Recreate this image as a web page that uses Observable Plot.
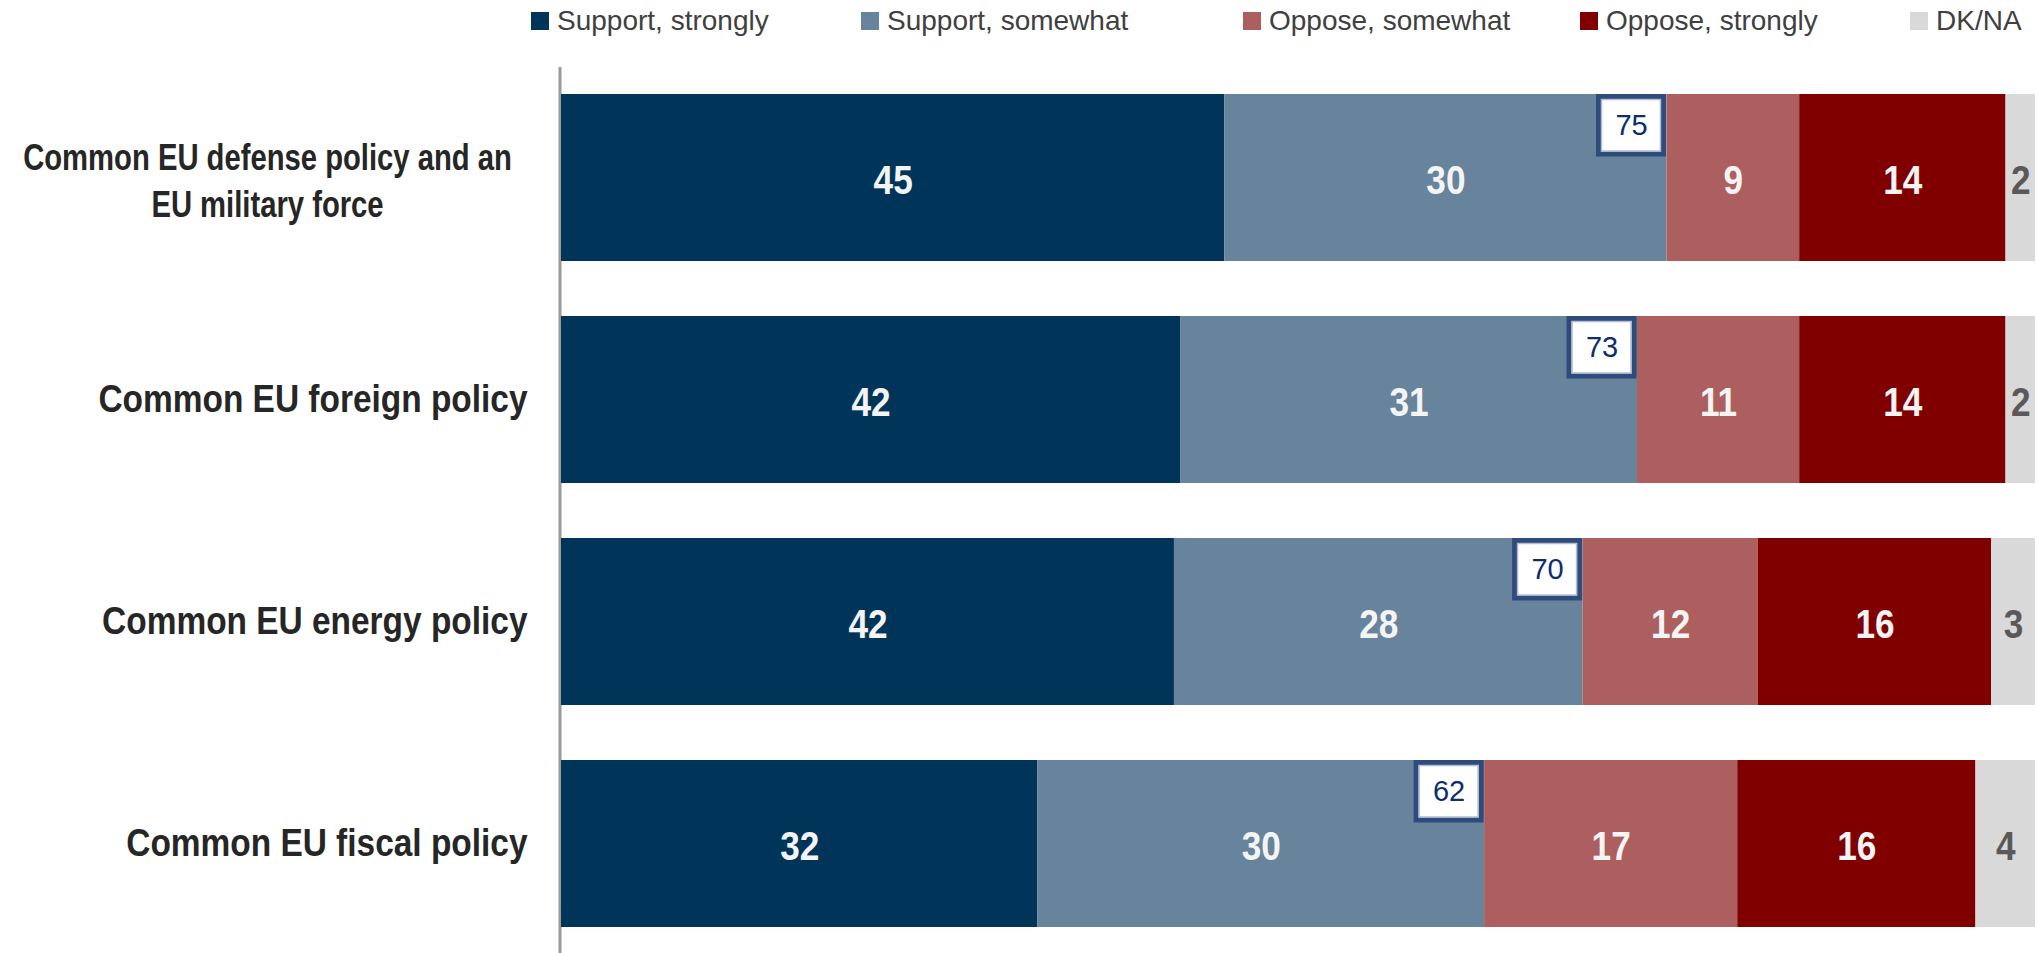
<!DOCTYPE html>
<html><head><meta charset="utf-8">
<script src="https://cdn.jsdelivr.net/npm/d3@7"></script>
<script src="https://cdn.jsdelivr.net/npm/@observablehq/plot@0.6"></script>
<style>
html,body{margin:0;padding:0;background:#fff;overflow:hidden;}
#legend{position:relative;height:50px;width:2039px;font-family:"Liberation Sans",Arial,sans-serif;font-size:28px;color:#404040;}
#legend .item{position:absolute;top:4px;height:34px;display:flex;align-items:center;white-space:nowrap;}
#legend .sw{width:18px;height:18px;margin-right:8px;flex:none;}
#chart svg{display:block;}
</style></head><body>
<div id="legend"></div>
<div id="chart"></div>
<script>
// ---- data ----
const categories = [
  "Common EU defense policy and an\nEU military force",
  "Common EU foreign policy",
  "Common EU energy policy",
  "Common EU fiscal policy"
];
const responses = ["Support, strongly", "Support, somewhat", "Oppose, somewhat", "Oppose, strongly", "DK/NA"];
const supportStrongly = [45, 42, 42, 32];
const supportSomewhat = [30, 31, 28, 30];
const opposeSomewhat  = [9, 11, 12, 17];
const opposeStrongly  = [14, 14, 16, 16];
const dkNa            = [2, 2, 3, 4];
const supportTotal    = [75, 73, 70, 62];

// ---- styles ----
const colors = ["#003459", "#67849c", "#ad5e5e", "#800000", "#d9d9d9"];
const legendLeft = [531, 861, 1243, 1580, 1910];
const FONT = '"Liberation Sans", Arial, sans-serif';

// ---- tables ----
const series = [supportStrongly, supportSomewhat, opposeSomewhat, opposeStrongly, dkNa];
const rows = categories.flatMap((c, i) => series.map((s, j) => ({category: c, response: responses[j], value: s[i]})));
const rowSum = categories.map((c, i) => d3.sum(series, s => s[i]));
const boxes = categories.map((c, i) => ({category: c, total: supportTotal[i], share: supportTotal[i] / rowSum[i]}));
const singleLabels = categories.filter(c => !c.includes("\n"));
const multiLabels = categories.filter(c => c.includes("\n"));

// ---- legend ----
const legend = document.getElementById("legend");
responses.forEach((r, i) => {
  const it = document.createElement("div");
  it.className = "item";
  it.style.left = legendLeft[i] + "px";
  const sw = document.createElement("span");
  sw.className = "sw";
  sw.style.background = colors[i];
  it.appendChild(sw);
  it.appendChild(document.createTextNode(r));
  legend.appendChild(it);
});

// ---- chart ----
const stackOpts = {x: "value", y: "category", z: "response", offset: "normalize", order: null};

const chart = Plot.plot({
  width: 2039,
  height: 903,
  marginTop: 17,
  marginBottom: 0,
  marginLeft: 561,
  marginRight: 4,
  style: {fontFamily: FONT, background: "#fff"},
  x: {domain: [0, 1], axis: null},
  y: {domain: categories, paddingInner: 0.25, paddingOuter: 0.119, axis: null},
  color: {domain: responses, range: colors},
  marks: [
    Plot.ruleX([0], {stroke: "#9a9a9a", strokeWidth: 3, dx: -1.5}),
    Plot.barX(rows, Plot.stackX({...stackOpts, fill: "response"})),
    Plot.text(rows, Plot.stackX({
      ...stackOpts,
      text: d => d.response === "DK/NA" ? null : d.value,
      fill: "#f4f4f4", fontSize: 40, fontWeight: "bold", dy: 3, ariaDescription: "narrow-0.88"
    })),
    Plot.text(rows, Plot.stackX({
      ...stackOpts,
      text: d => d.response === "DK/NA" ? d.value : null,
      fill: "#595959", fontSize: 40, fontWeight: "bold", dy: 3, ariaDescription: "narrow-0.88"
    })),
    Plot.barX(boxes, {x1: "share", x2: "share", y: "category", fill: "white",
      stroke: "#2f4b7c", strokeWidth: 5, insetLeft: -68, insetRight: 3, insetTop: 2.5, insetBottom: 107}),
    Plot.barX(boxes, {x1: "share", x2: "share", y: "category", fill: "none",
      stroke: "#aebbd0", strokeWidth: 1.5, insetLeft: -65, insetRight: 6, insetTop: 5.5, insetBottom: 110}),
    Plot.text(boxes, {x: "share", y: "category", text: "total", dx: -35.5, dy: -52,
      fontSize: 29, fill: "#0d2d6c"}),
    Plot.text(singleLabels, {y: d => d, text: d => d, frameAnchor: "left", textAnchor: "end", dx: -34,
      fontSize: 38, fontWeight: "bold", fill: "#262626", ariaDescription: "narrow-0.88"}),
    Plot.text(multiLabels, {y: d => d, text: d => d, frameAnchor: "left", textAnchor: "middle", dx: -294, dy: 0,
      lineHeight: 1.27, fontSize: 37, fontWeight: "bold", fill: "#262626", ariaDescription: "narrow-0.79"})
  ]
});

// horizontally condense the bold texts (the reference uses a narrow face)
chart.querySelectorAll("g[aria-description^='narrow-']").forEach(g => {
  const s = +g.getAttribute("aria-description").slice(7);
  g.querySelectorAll(":scope > text").forEach(t => {
    const tr = t.getAttribute("transform") || "";
    t.setAttribute("transform", `${tr} scale(${s},1)`);
  });
});
document.getElementById("chart").appendChild(chart);
</script>
</body></html>
